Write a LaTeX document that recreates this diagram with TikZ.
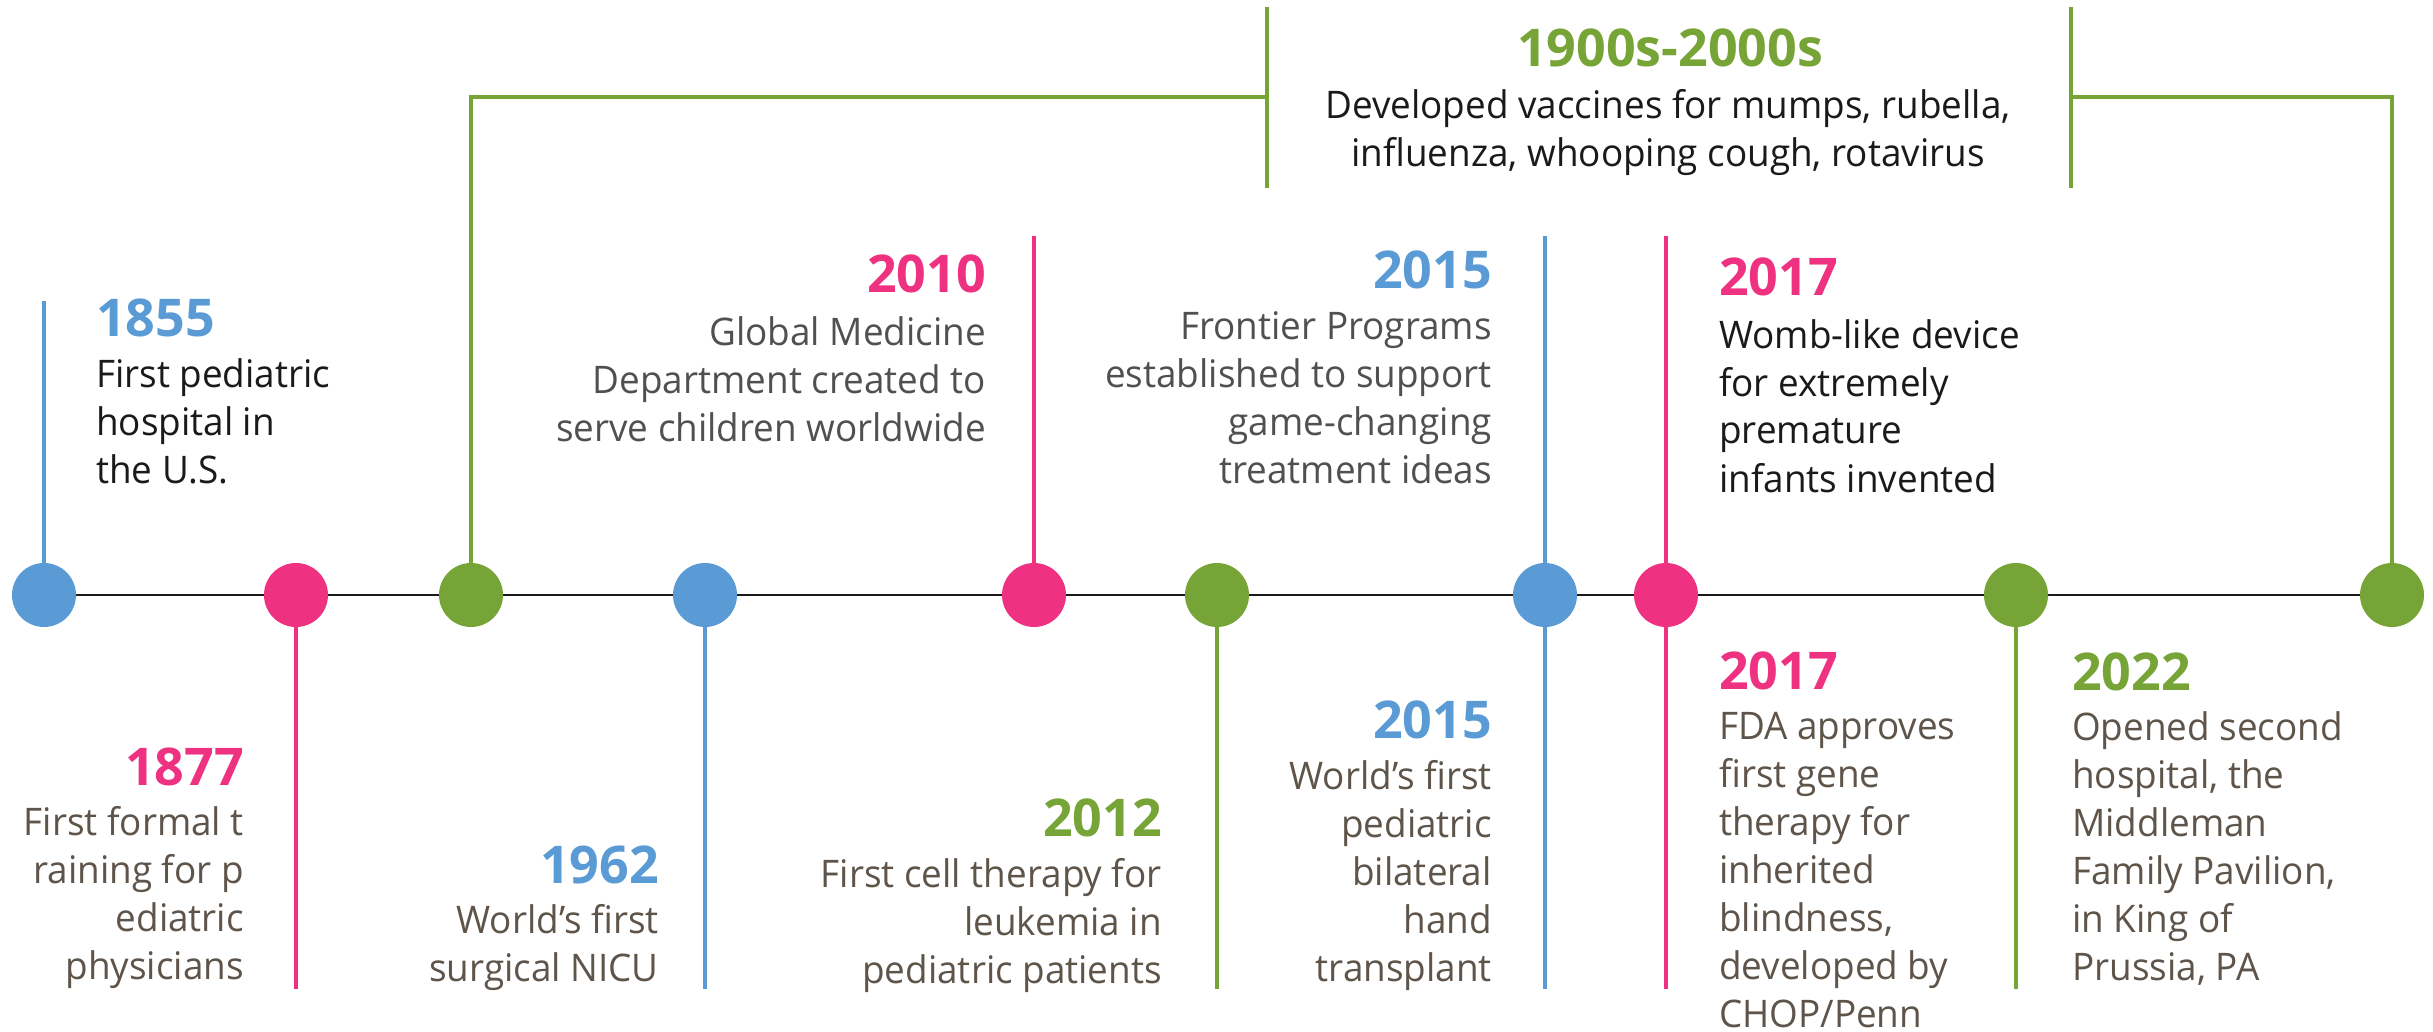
\documentclass[tikz,border=0pt]{standalone}
\usepackage{fontspec}
\setmainfont{Open Sans}[UprightFeatures={FakeStretch=0.97}]
\usetikzlibrary{backgrounds}
\definecolor{cblue}{HTML}{5B9BD5}
\definecolor{cpink}{HTML}{EE3180}
\definecolor{cgreen}{HTML}{77A437}
\definecolor{tblack}{HTML}{1A1A1A}
\definecolor{tgray}{HTML}{505050}
\definecolor{tbrown}{HTML}{5E544A}
\newcommand\bodyfont{\fontsize{38}{48}\selectfont}
\newcommand\yearfont{\fontsize{52}{52}\selectfont\bfseries}
\newcommand\linesR[1]{\begin{tabular}[t]{@{}r@{}}#1\end{tabular}}
\newcommand\linesL[1]{\begin{tabular}[t]{@{}l@{}}#1\end{tabular}}
\newcommand\linesC[1]{\begin{tabular}[t]{@{}c@{}}#1\end{tabular}}
\tikzset{
  dot/.style={circle, fill=#1, draw=none, minimum size=64pt, inner sep=0},
  stem/.style={draw=#1, line width=3.5pt},
  axis/.style={draw=tblack, line width=2.7pt},
  yearW/.style={anchor=base west, inner sep=0, font=\yearfont, text=#1},
  yearE/.style={anchor=base east, inner sep=0, font=\yearfont, text=#1},
  yearC/.style={anchor=base, inner sep=0, font=\yearfont, text=#1},
  bodyW/.style={anchor=base west, inner sep=0, font=\bodyfont, text=#1},
  bodyE/.style={anchor=base east, inner sep=0, font=\bodyfont, text=#1},
  bodyC/.style={anchor=base, inner sep=0, font=\bodyfont, text=#1},
}
\begin{document}
\begin{tikzpicture}[x=1pt,y=-1pt]
\useasboundingbox (0,0) rectangle (2433,1032);

% milestone dots
\node[dot=cblue]  (c1)  at (44,595)   {};
\node[dot=cpink]  (c2)  at (296,595)  {};
\node[dot=cgreen] (c3)  at (471,595)  {};
\node[dot=cblue]  (c4)  at (705,595)  {};
\node[dot=cpink]  (c5)  at (1034,595) {};
\node[dot=cgreen] (c6)  at (1217,595) {};
\node[dot=cblue]  (c7)  at (1545,595) {};
\node[dot=cpink]  (c8)  at (1666,595) {};
\node[dot=cgreen] (c9)  at (2016,595) {};
\node[dot=cgreen] (c10) at (2392,595) {};

% stem ends
\coordinate (t1) at (44,301);
\coordinate (d2) at (296,989);
\coordinate (d4) at (705,989);
\coordinate (t5) at (1034,236);
\coordinate (d6) at (1217,989);
\coordinate (t7) at (1545,236);
\coordinate (d7) at (1545,989);
\coordinate (t8) at (1666,236);
\coordinate (d8) at (1666,989);
\coordinate (d9) at (2016,989);
% bracket
\coordinate (brL)  at (1267,97);
\coordinate (brLt) at (1267,7);
\coordinate (brLb) at (1267,188);
\coordinate (brR)  at (2071,97);
\coordinate (brRt) at (2071,7);
\coordinate (brRb) at (2071,188);

\begin{scope}[on background layer]
  \fill[white] (0,0) rectangle (2433,1032);
  \draw[axis] (c1.center) -- (c10.center);
  \draw[stem=cblue]  (c1.center) -- (t1);
  \draw[stem=cpink]  (c2.center) -- (d2);
  \draw[stem=cblue]  (c4.center) -- (d4);
  \draw[stem=cpink]  (c5.center) -- (t5);
  \draw[stem=cgreen] (c6.center) -- (d6);
  \draw[stem=cblue]  (t7) -- (d7);
  \draw[stem=cpink]  (t8) -- (d8);
  \draw[stem=cgreen] (c9.center) -- (d9);
  \draw[stem=cgreen] (c3.center) |- (brL);
  \draw[stem=cgreen] (brLt) -- (brLb);
  \draw[stem=cgreen] (brRt) -- (brRb);
  \draw[stem=cgreen] (brR) -| (c10.center);
\end{scope}

% texts
\node[yearW=cblue] (y1855) at (96,336) {1855};
\node[bodyW=tblack] (b1855) at (96,387) {\linesL{First pediatric\\hospital in\\the U.S.}};

\node[yearE=cpink] (y1877) at (244,785) {1877};
\node[bodyE=tbrown] (b1877) at (244,835) {\linesR{First formal t\\raining for p\\ediatric\\physicians}};

\node[yearE=cblue] (y1962) at (659,883) {1962};
\node[bodyE=tbrown] (b1962) at (659,933) {\linesR{World’s first\\surgical NICU}};

\node[yearE=cpink] (y2010) at (986,293) {2010};
\node[bodyE=tgray] (b2010) at (986,345) {\linesR{Global Medicine\ \\Department created to\\serve children worldwide}};

\node[yearE=cgreen] (y2012) at (1162,836) {2012};
\node[bodyE=tbrown] (b2012) at (1162,887) {\linesR{First cell therapy for\\leukemia in\\pediatric patients}};

\node[yearE=cblue] (y2015a) at (1492,288) {2015};
\node[bodyE=tgray] (b2015a) at (1492,339) {\linesR{Frontier Programs\\established to support\\game-changing\\treatment ideas}};

\node[yearE=cblue] (y2015b) at (1492,738) {2015};
\node[bodyE=tbrown] (b2015b) at (1492,789) {\linesR{World’s first\ \\pediatric\\bilateral\\hand\\transplant}};

\node[yearW=cpink] (y2017a) at (1719,296) {2017};
\node[bodyW=tblack] (b2017a) at (1719,348) {\linesL{Womb-like device\\for extremely\\premature\\infants invented}};

\node[yearW=cpink] (y2017b) at (1719,689) {2017};
\node[bodyW=tbrown] (b2017b) at (1719,739) {\linesL{FDA approves\\first gene\\therapy for\\inherited\\blindness,\\developed by\\CHOP/Penn}};

\node[yearW=cgreen] (y2022) at (2072,690) {2022};
\node[bodyW=tbrown] (b2022) at (2072,740) {\linesL{Opened second\\hospital, the\\Middleman\\Family Pavilion,\\in King of\\Prussia, PA}};

\node[yearC=cgreen] (y1900) at (1670,67) {1900s-2000s};
\node[bodyC=tblack] (b1900) at (1668,119) {\linesC{Developed vaccines for mumps, rubella,\\influenza, whooping cough, rotavirus}};
\end{tikzpicture}
\end{document}
